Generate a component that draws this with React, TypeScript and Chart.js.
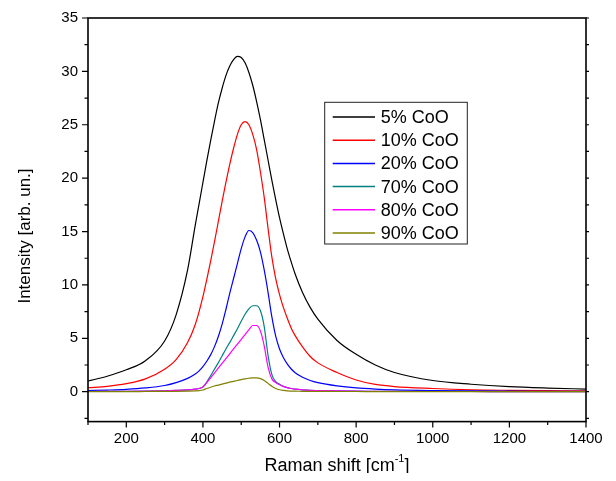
import React, { useEffect, useRef } from "react";
import { Chart, registerables } from "chart.js";

Chart.register(...registerables);

const FONT = "'Liberation Sans', Arial, Helvetica, sans-serif";

// Raman shift sampling (cm^-1)
const SHIFT = [
  100, 150, 200, 250, 300, 330, 360,
  380, 390, 400, 410, 420, 430, 440, 450, 460, 470, 480, 490, 500, 510, 520, 530, 540,
  550, 560, 570, 580, 590, 600, 610, 620, 630, 640,
  660, 680, 700, 750, 800, 850, 900, 1000, 1100, 1200, 1300, 1400,
];

// Intensity (arb. un.) for each CoO content
const COO_5 = [
  1.0, 1.45, 2.05, 2.9, 4.75, 7.2, 11.4,
  15.6, 17.6, 19.6, 21.6, 23.5, 25.3, 27.0, 28.4, 29.6, 30.5, 31.1, 31.4, 31.3, 30.8, 29.9, 28.7, 27.2,
  25.5, 23.6, 21.7, 19.8, 18.0, 16.3, 14.8, 13.4, 12.2, 11.1,
  9.3, 7.9, 6.8, 4.8, 3.5, 2.5, 1.8, 1.05, 0.7, 0.47, 0.34, 0.25,
];
const COO_10 = [
  0.37, 0.5, 0.75, 1.2, 2.1, 3.0, 4.6,
  6.3, 7.5, 8.9, 10.5, 12.2, 14.0, 15.9, 17.8, 19.6, 21.3, 22.8, 24.1, 25.0, 25.3, 25.0, 24.1, 22.7,
  20.6, 18.2, 15.3, 12.6, 10.6, 9.1, 7.9, 6.9, 6.0, 5.3,
  4.2, 3.3, 2.7, 1.8, 1.1, 0.68, 0.48, 0.3, 0.18, 0.13, 0.1, 0.08,
];
const COO_20 = [
  0.1, 0.15, 0.22, 0.35, 0.58, 0.85, 1.25,
  1.65, 1.95, 2.35, 2.85, 3.45, 4.2, 5.15, 6.3, 7.7, 9.2, 10.6, 12.0, 13.4, 14.5, 15.1, 14.9, 14.2,
  13.1, 11.4, 9.3, 7.0, 5.2, 4.0, 3.2, 2.6, 2.15, 1.8,
  1.35, 1.05, 0.85, 0.55, 0.36, 0.25, 0.18, 0.11, 0.07, 0.05, 0.04, 0.03,
];
const COO_70 = [
  0.02, 0.03, 0.04, 0.06, 0.09, 0.12, 0.17,
  0.24, 0.3, 0.45, 0.9, 1.5, 2.1, 2.7, 3.35, 4.0, 4.6, 5.25, 5.9, 6.6, 7.25, 7.75, 8.05, 8.05,
  7.6, 6.1, 3.4, 1.6, 0.95, 0.7, 0.5, 0.38, 0.3, 0.25,
  0.18, 0.13, 0.11, 0.07, 0.05, 0.04, 0.03, 0.02, 0.02, 0.01, 0.01, 0.01,
];
const COO_80 = [
  0.02, 0.03, 0.04, 0.06, 0.09, 0.12, 0.17,
  0.24, 0.3, 0.45, 0.85, 1.3, 1.75, 2.2, 2.65, 3.1, 3.55, 4.0, 4.45, 4.9, 5.35, 5.8, 6.2, 6.2,
  5.7, 4.3, 2.3, 1.2, 0.85, 0.65, 0.5, 0.38, 0.3, 0.25,
  0.18, 0.13, 0.11, 0.07, 0.05, 0.04, 0.03, 0.02, 0.02, 0.01, 0.01, 0.01,
];
const COO_90 = [
  0.0, 0.01, 0.01, 0.02, 0.03, 0.04, 0.06,
  0.08, 0.1, 0.16, 0.3, 0.42, 0.53, 0.62, 0.71, 0.8, 0.89, 0.97, 1.05, 1.13, 1.2, 1.26, 1.3, 1.29,
  1.22, 1.05, 0.78, 0.5, 0.3, 0.18, 0.12, 0.08, 0.06, 0.05,
  0.04, 0.03, 0.03, 0.02, 0.02, 0.01, 0.01, 0.01, 0, 0, 0, 0,
];

const SERIES = [COO_5, COO_10, COO_20, COO_70, COO_80, COO_90];
const SERIES_LABELS = ["5% CoO", "10% CoO", "20% CoO", "70% CoO", "80% CoO", "90% CoO"];
const SERIES_COLORS = ["#000000", "#ff0000", "#0000ff", "#008080", "#ff00ff", "#808000"];

// Axes
const X_RANGE = [100, 1400];
const Y_RANGE = [-2.8, 35];
const X_TICKS = [200, 400, 600, 800, 1000, 1200, 1400];
const Y_TICKS = [0, 5, 10, 15, 20, 25, 30, 35];
const X_MINOR_STEP = 100;
const Y_MINOR_STEP = 2.5;
const X_TITLE = "Raman shift [cm";
const X_TITLE_SUP = "-1";
const X_TITLE_END = "]";
const Y_TITLE = "Intensity [arb. un.]";

const CANVAS_W = 608;
const CANVAS_H = 473;
const PLOT = { left: 80, right: 578, top: 10, bottom: 413.6 };

const framePlugin = {
  id: "frame",
  afterDraw(chart: any) {
    const { ctx, chartArea: a } = chart;
    const xs = chart.scales.x;
    const ys = chart.scales.y;
    ctx.save();

    // plot box
    ctx.strokeStyle = "#000";
    ctx.lineWidth = 1.6;
    ctx.strokeRect(a.left, a.top, a.right - a.left, a.bottom - a.top);

    // tick marks
    ctx.lineWidth = 1.2;
    ctx.beginPath();
    const yStart = Math.ceil(Y_RANGE[0] / Y_MINOR_STEP) * Y_MINOR_STEP;
    for (let v = yStart; v <= Y_RANGE[1] + 1e-9; v += Y_MINOR_STEP) {
      const py = ys.getPixelForValue(v);
      const major = Y_TICKS.some((t) => Math.abs(t - v) < 1e-6);
      ctx.moveTo(a.left, py);
      ctx.lineTo(a.left - (major ? 6 : 3.5), py);
      ctx.moveTo(a.right, py);
      ctx.lineTo(a.right + 3, py);
    }
    for (let v = X_RANGE[0]; v <= X_RANGE[1] + 1e-9; v += X_MINOR_STEP) {
      const px = xs.getPixelForValue(v);
      const major = X_TICKS.includes(v);
      ctx.moveTo(px, a.bottom);
      ctx.lineTo(px, a.bottom + (major ? 6 : 3.5));
    }
    ctx.stroke();

    // axis titles
    ctx.fillStyle = "#000";
    ctx.textBaseline = "middle";
    ctx.textAlign = "left";
    const mainFont = `18px ${FONT}`;
    const supFont = `11px ${FONT}`;
    ctx.font = mainFont;
    const w1 = ctx.measureText(X_TITLE).width;
    const w3 = ctx.measureText(X_TITLE_END).width;
    ctx.font = supFont;
    const w2 = ctx.measureText(X_TITLE_SUP).width;
    const total = w1 + w2 + w3;
    const cx = (a.left + a.right) / 2;
    const ty = 458;
    let tx = cx - total / 2;
    ctx.font = mainFont;
    ctx.fillText(X_TITLE, tx, ty);
    tx += w1;
    ctx.font = supFont;
    ctx.fillText(X_TITLE_SUP, tx, ty - 7);
    tx += w2;
    ctx.font = mainFont;
    ctx.fillText(X_TITLE_END, tx, ty);

    ctx.save();
    ctx.translate(17, 228);
    ctx.rotate(-Math.PI / 2);
    ctx.textAlign = "center";
    ctx.font = `17px ${FONT}`;
    ctx.fillText(Y_TITLE, 0, 0);
    ctx.restore();

    // legend box
    const box = { left: 316.7, top: 94.3, right: 459.3, bottom: 236 };
    ctx.lineWidth = 1;
    ctx.strokeStyle = "#222";
    ctx.strokeRect(box.left, box.top, box.right - box.left, box.bottom - box.top);
    ctx.font = `18px ${FONT}`;
    ctx.textAlign = "left";
    chart.data.datasets.forEach((ds: any, i: number) => {
      const ry = 109 + i * 23.2;
      ctx.strokeStyle = ds.borderColor;
      ctx.lineWidth = 1.5;
      ctx.beginPath();
      ctx.moveTo(324.7, ry);
      ctx.lineTo(367, ry);
      ctx.stroke();
      ctx.fillStyle = "#000";
      ctx.fillText(ds.label, 372.7, ry + 1);
    });

    ctx.restore();
  },
};

export default function App() {
  const canvasRef = useRef<HTMLCanvasElement | null>(null);

  useEffect(() => {
    const canvas = canvasRef.current;
    if (!canvas) return;
    Chart.defaults.font.family = FONT;

    const datasets = SERIES.map((values, i) => ({
      label: SERIES_LABELS[i],
      data: SHIFT.map((x, j) => ({ x, y: values[j] })),
      borderColor: SERIES_COLORS[i],
      backgroundColor: SERIES_COLORS[i],
      borderWidth: 1.2,
      pointRadius: 0,
      fill: false,
      cubicInterpolationMode: "monotone" as const,
      order: SERIES.length - i,
    }));

    const chart = new Chart(canvas, {
      type: "line",
      data: { datasets },
      options: {
        responsive: false,
        animation: false,
        layout: {
          padding: {
            top: PLOT.top,
            right: CANVAS_W - PLOT.right,
            bottom: 0,
            left: 0,
          },
        },
        plugins: { legend: { display: false }, tooltip: { enabled: false } },
        scales: {
          x: {
            type: "linear",
            min: X_RANGE[0],
            max: X_RANGE[1],
            grid: { display: false, drawTicks: false },
            border: { display: false },
            afterBuildTicks: (scale: any) => {
              scale.ticks = X_TICKS.map((value) => ({ value }));
            },
            afterFit: (scale: any) => {
              scale.height = CANVAS_H - PLOT.bottom;
              scale.paddingLeft = 0;
              scale.paddingRight = 0;
            },
            ticks: {
              color: "#000",
              font: { size: 15, family: FONT },
              padding: 8,
              maxRotation: 0,
              autoSkip: false,
              callback: (v: any) => String(v),
            },
          },
          y: {
            type: "linear",
            min: Y_RANGE[0],
            max: Y_RANGE[1],
            grid: { display: false, drawTicks: false },
            border: { display: false },
            afterBuildTicks: (scale: any) => {
              scale.ticks = Y_TICKS.map((value) => ({ value }));
            },
            afterFit: (scale: any) => {
              scale.width = PLOT.left;
              scale.paddingTop = 0;
              scale.paddingBottom = 0;
            },
            ticks: {
              color: "#000",
              font: { size: 15, family: FONT },
              padding: 10,
              autoSkip: false,
              callback: (v: any) => String(v),
            },
          },
        },
      },
      plugins: [framePlugin],
    });

    return () => chart.destroy();
  }, []);

  return (
    <div style={{ width: CANVAS_W - 8, height: CANVAS_H - 8 }}>
      <canvas
        ref={canvasRef}
        width={CANVAS_W}
        height={CANVAS_H}
        style={{ display: "block" }}
      />
    </div>
  );
}
